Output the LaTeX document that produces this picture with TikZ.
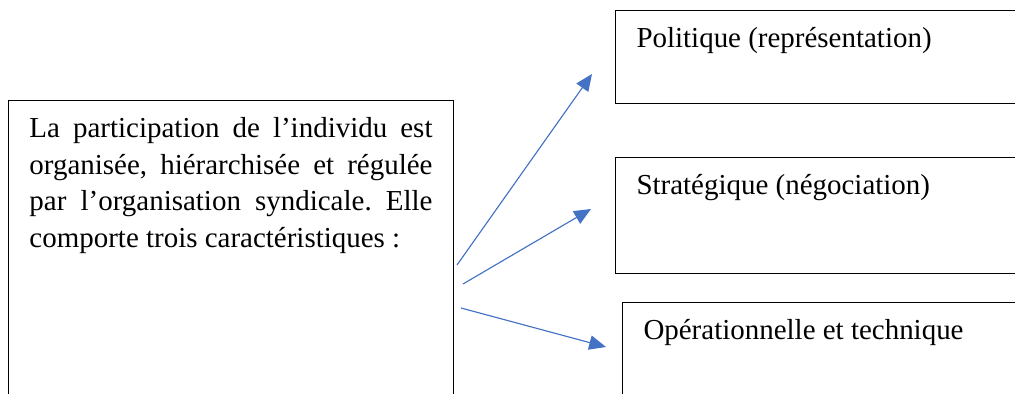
\documentclass[tikz,border=0pt]{standalone}
\usepackage{fontspec}
\setmainfont{Liberation Serif}
\usetikzlibrary{arrows.meta}

\definecolor{arrowblue}{HTML}{4472C4}
\tikzset{
    box/.style={draw, line width=0.7pt, inner xsep=0.525cm, inner ysep=0.425cm,
        text height=0.5cm, font=\fontsize{20.6}{26}\selectfont},
    arrow/.style={draw=arrowblue, line width=0.8pt,
        -{Triangle[length=0.42cm, width=0.36cm]}, fill=arrowblue}
}

\begin{document}
\frenchspacing
\begin{tikzpicture}
    \useasboundingbox (0,0) rectangle (25.375,9.85);
    \clip (0,0) rectangle (25.375,9.85);
            \node[box, anchor=north west, text width=10.075cm, align=justify, text depth=6.9cm] (intro) at (0.2,7.35)
                {La participation de l’individu est organisée, hiérarchisée et régulée par l’organisation syndicale. Elle comporte trois caractéristiques~:};
            \node[box, anchor=north west, text width=9.35cm, align=flush left, text depth=0.975cm] (pol) at (15.375,9.6){Politique (représentation)};
            \node[box, anchor=north west, text width=9.35cm, align=flush left, text depth=1.55cm] (strat) at (15.375,5.925){Stratégique (négociation)};
            \node[box, anchor=north west, text width=9.25cm, align=flush left, text depth=3cm] (oper) at (15.55,2.3){Opérationnelle et technique};
            \coordinate (s1) at (11.425,3.225);
            \coordinate (s2) at (11.575,2.75);
            \coordinate (s3) at (11.525,2.15);
            \coordinate (t1) at (14.8,8.0);
            \coordinate (t2) at (14.775,4.625);
            \coordinate (t3) at (15.15,1.175);
            \draw[arrow] (s1)--(t1);
            \draw[arrow] (s2)--(t2);
            \draw[arrow] (s3)--(t3);
        \end{tikzpicture}
\end{document}
